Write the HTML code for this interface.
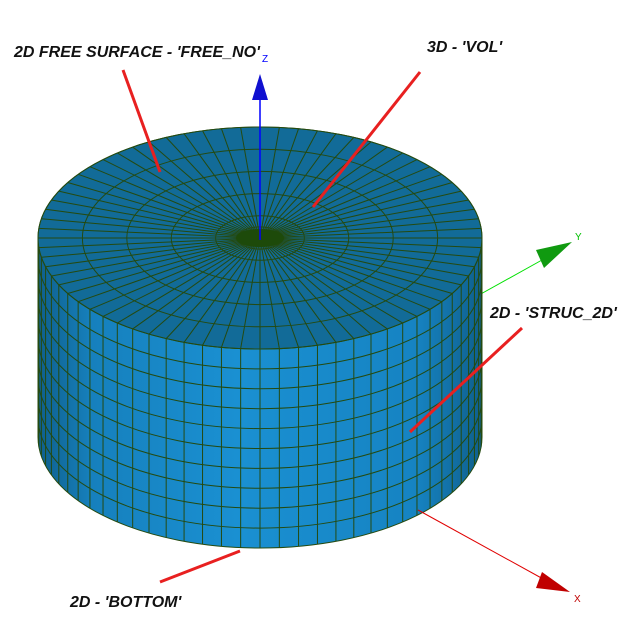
<!DOCTYPE html>
<html><head><meta charset="utf-8">
<style>
html,body{margin:0;padding:0;background:#fff;}
svg{display:block;}
text{font-family:"Liberation Sans",sans-serif;font-style:italic;font-weight:bold;font-size:16px;fill:#111;}
</style></head>
<body>
<svg id="s" width="629" height="625" viewBox="0 0 629 625" xmlns="http://www.w3.org/2000/svg">
<defs>
<linearGradient id="side" x1="38" y1="0" x2="483" y2="0" gradientUnits="userSpaceOnUse">
<stop offset="0" stop-color="#0f5f8c"/>
<stop offset="0.12" stop-color="#1680bd"/>
<stop offset="0.45" stop-color="#1a90d2"/>
<stop offset="0.85" stop-color="#1683c2"/>
<stop offset="1" stop-color="#0f5f8c"/>
</linearGradient>
</defs>
<g>
<line x1="470" y1="300" x2="542" y2="260" stroke="#00e000" stroke-width="1"/>
<polygon points="572,242 536,250 544,268" fill="#109a10"/>
<text x="575" y="240" style="font-size:10px;font-style:normal;font-weight:normal;fill:#00c000">Y</text>
</g>
<g id="side-g"></g>
<g id="top-g"></g>
<g id="axes">
<line x1="260" y1="240" x2="260" y2="95" stroke="#0000ff" stroke-width="1.5"/>
<polygon points="260,74 252,100 268,100" fill="#1010d0"/>
<text x="262" y="62" style="font-size:10px;font-style:normal;font-weight:normal;fill:#0000ff">Z</text>
<line x1="418" y1="510" x2="545" y2="580" stroke="#e00000" stroke-width="1"/>
<polygon points="570,592 542,572 536,588" fill="#c00000"/>
<text x="574" y="602" style="font-size:10px;font-style:normal;font-weight:normal;fill:#c00000">X</text>
</g>
<g stroke="#e82020" stroke-width="3">
<line x1="123" y1="70" x2="160" y2="172"/>
<line x1="420" y1="72" x2="313" y2="207"/>
<line x1="522" y1="328" x2="410" y2="432"/>
<line x1="160" y1="582" x2="240" y2="551"/>
</g>
<text x="14" y="57">2D FREE SURFACE  - 'FREE_NO'</text>
<text x="427" y="52">3D - 'VOL'</text>
<text x="490" y="318">2D - 'STRUC_2D'</text>
<text x="70" y="607">2D -  'BOTTOM'</text>
</svg>
<script>
const NS="http://www.w3.org/2000/svg";
const cx=260, cyT=238, cyB=437, rx=222, ry=111;
const sectors=72, rows=10;
const rings=[0.03,0.06,0.1,0.2,0.4,0.6,0.8,1];
const stroke="#244a10";
function mk(t,a,p){const e=document.createElementNS(NS,t);for(const k in a)e.setAttribute(k,a[k]);p.appendChild(e);return e;}
const sideG=document.getElementById('side-g'), topG=document.getElementById('top-g');
let p=mk('path',{d:`M${cx-rx},${cyT} L${cx-rx},${cyB} A${rx},${ry} 0 0 0 ${cx+rx},${cyB} L${cx+rx},${cyT} Z`,fill:'url(#side)',stroke:stroke,'stroke-width':1},sideG);


for(let i=1;i<rows;i++){
  const y=cyT+(cyB-cyT)*i/rows;
  const l=mk('path',{d:`M${cx-rx},${y} A${rx},${ry} 0 0 0 ${cx+rx},${y}`,fill:'none',stroke:stroke,'stroke-width':1},sideG);
  
  
}
for(let k=0;k<=sectors/2;k++){
  const a=Math.PI*k/(sectors/2);
  const x=cx-rx*Math.cos(a), dy=ry*Math.sin(a);
  const l=mk('line',{x1:x,y1:cyT+dy,x2:x,y2:cyB+dy,stroke:stroke,'stroke-width':1},sideG);
  
  
}
const t=mk('ellipse',{cx:cx,cy:cyT,rx:rx,ry:ry,fill:'#126b98',stroke:stroke,'stroke-width':1},topG);


for(let k=0;k<sectors;k++){
  const a=2*Math.PI*k/sectors;
  const l=mk('line',{x1:cx,y1:cyT,x2:cx+rx*Math.cos(a),y2:cyT+ry*Math.sin(a),stroke:stroke,'stroke-width':1},topG);
  
  
}
for(const f of rings){
  const e=mk('ellipse',{cx:cx,cy:cyT,rx:rx*f,ry:ry*f,fill:'none',stroke:stroke,'stroke-width':1},topG);
  
  
}
const c=mk('ellipse',{cx:cx,cy:cyT,rx:24,ry:9,fill:'#1d4a0a'},topG);


</script>
</body></html>
